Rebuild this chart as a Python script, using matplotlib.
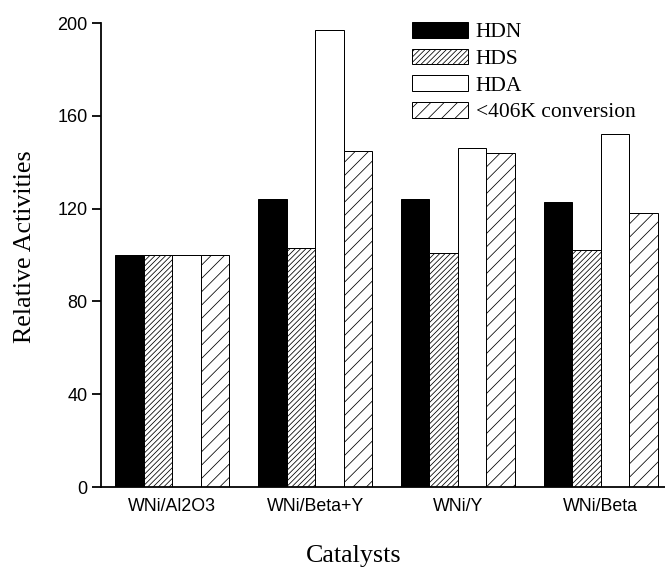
import numpy as np
import matplotlib
matplotlib.use("Agg")
import matplotlib.pyplot as plt

catalysts = ["WNi/Al2O3", "WNi/Beta+Y", "WNi/Y", "WNi/Beta"]
series = ["HDN", "HDS", "HDA", "<406K conversion"]
hdn = [100, 124, 124, 123]
hds = [100, 103, 101, 102]
hda = [100, 197, 146, 152]
conv = [100, 145, 144, 118]
yticks = [0, 40, 80, 120, 160, 200]

DPI = 80
plt.rcParams["hatch.linewidth"] = 0.7

fig = plt.figure(figsize=(665 / DPI, 568 / DPI), dpi=DPI)
ax = fig.add_axes([101 / 665, 81 / 568, 571 / 665, 464 / 568])

x = np.arange(len(catalysts))
w = 0.2
styles = [
    dict(facecolor="black", hatch=None),
    dict(facecolor="white", hatch="/////"),
    dict(facecolor="white", hatch=None),
    dict(facecolor="white", hatch="//"),
]
for i, (vals, lab, st) in enumerate(zip([hdn, hds, hda, conv], series, styles)):
    ax.bar(x + (i - 1.5) * w, vals, w, label=lab, edgecolor="black",
           linewidth=0.9, **st)

ax.set_xlim(-0.5, 3.5)
ax.set_ylim(0, 200)
ax.set_yticks(yticks)
ax.set_xticks(x)
ax.set_xticklabels(catalysts, family="Liberation Sans", fontsize=16)
for t in ax.get_yticklabels():
    t.set_family("Liberation Sans")
    t.set_fontsize(16.2)
ax.tick_params(axis="y", length=8, width=1.6, pad=4)
ax.tick_params(axis="x", length=0, pad=10)
for s in ["top", "right"]:
    ax.spines[s].set_visible(False)
for s in ["left", "bottom"]:
    ax.spines[s].set_linewidth(1.6)

ax.set_ylabel("Relative Activities", family="Liberation Serif", fontsize=23.4)
ax.yaxis.set_label_coords(-0.114, 0.519)
ax.set_xlabel("Catalysts", family="Liberation Serif", fontsize=23.4)
ax.xaxis.set_label_coords(0.443, -0.126)

ax.legend(loc="upper left", bbox_to_anchor=(412 / 665, 1 - 22 / 568),
          bbox_transform=fig.transFigure, frameon=False,
          prop=dict(family="Liberation Serif", size=19.3),
          handlelength=2.6, handleheight=0.74, handletextpad=0.37,
          labelspacing=0.3, borderpad=0, borderaxespad=0)

fig.savefig("out.png", dpi=DPI)
